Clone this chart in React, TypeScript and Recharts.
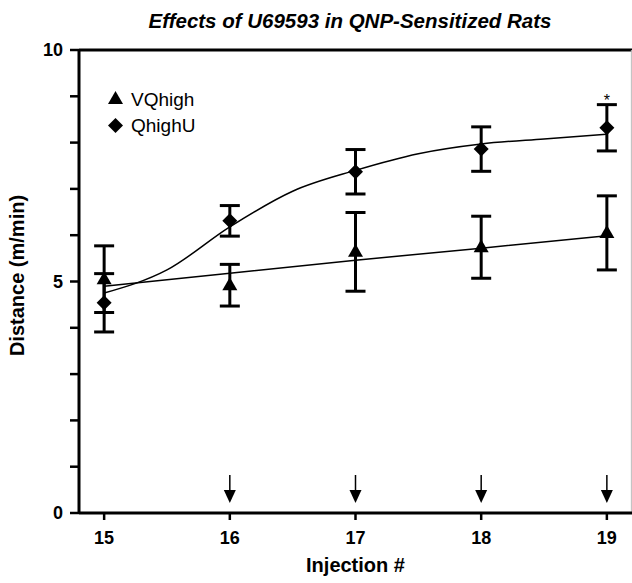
import {
  ComposedChart,
  ErrorBar,
  Line,
  ReferenceLine,
  Scatter,
  XAxis,
  YAxis,
} from "recharts";

const injections = [15, 16, 17, 18, 19];
const vqMean = [5.05, 4.92, 5.64, 5.74, 6.05];
const vqSem = [0.72, 0.45, 0.85, 0.67, 0.8];
const quMean = [4.54, 6.31, 7.37, 7.86, 8.32];
const quSem = [0.63, 0.33, 0.48, 0.48, 0.5];

// fitted curves
const vqFitX = [15, 16, 17, 18, 19];
const vqFitY = [4.9, 5.18, 5.46, 5.72, 5.99];
const quFitX = [15, 15.5, 16, 16.5, 17, 17.5, 18, 18.5, 19];
const quFitY = [4.75, 5.25, 6.18, 6.95, 7.4, 7.76, 7.97, 8.08, 8.18];

const arrowInjections = [16, 17, 18, 19];
const significant = [19];
const yTicks = [0, 1, 2, 3, 4, 5, 6, 7, 8, 9, 10];
const xTicks = [15, 16, 17, 18, 19];

const FONT = "'Liberation Sans', Arial, sans-serif";

const vqData = injections.map((x, i) => ({ x, y: vqMean[i], err: vqSem[i] }));
const quData = injections.map((x, i) => ({ x, y: quMean[i], err: quSem[i] }));
const vqFit = vqFitX.map((x, i) => ({ x, y: vqFitY[i] }));
const quFit = quFitX.map((x, i) => ({ x, y: quFitY[i] }));
const arrowData = arrowInjections.map((x) => ({ x, y: 0 }));
const starData = significant.map((x) => {
  const i = injections.indexOf(x);
  return { x, y: quMean[i] + quSem[i] };
});

const Triangle = ({ cx, cy }: any) => (
  <polygon points={`${cx},${cy - 8} ${cx + 7.5},${cy + 5} ${cx - 7.5},${cy + 5}`} fill="#000" />
);
const Diamond = ({ cx, cy }: any) => (
  <polygon points={`${cx},${cy - 7.5} ${cx + 7.5},${cy} ${cx},${cy + 7.5} ${cx - 7.5},${cy}`} fill="#000" />
);
const Arrow = ({ cx, cy }: any) => (
  <g>
    <line x1={cx} x2={cx} y1={cy - 38} y2={cy - 22} stroke="#000" strokeWidth={1.5} />
    <polygon points={`${cx - 6},${cy - 23} ${cx + 6},${cy - 23} ${cx},${cy - 10}`} fill="#000" />
  </g>
);
const Star = ({ cx, cy }: any) => (
  <text x={cx} y={cy + 1} textAnchor="middle" fontFamily={FONT} fontSize={16}>
    *
  </text>
);

const legendItems = [
  { name: "VQhigh", Icon: Triangle },
  { name: "QhighU", Icon: Diamond },
];

const tickStyle = { fontFamily: FONT, fontSize: 18, fontWeight: "bold", fill: "#000" };

export default function App() {
  return (
    <div style={{ position: "absolute", left: 0, top: 0, width: 632, height: 583, background: "#fff" }}>
      <ComposedChart width={632} height={583} margin={{ top: 50, right: 0, bottom: 0, left: 0 }}>
        <XAxis
          dataKey="x"
          type="number"
          domain={[14.8, 19.2]}
          ticks={xTicks}
          height={70}
          allowDataOverflow
          axisLine={{ stroke: "#000", strokeWidth: 3 }}
          tickLine={{ stroke: "#000", strokeWidth: 2.5 }}
          tickSize={7}
          tickMargin={11}
          tick={tickStyle}
          label={{
            content: ({ viewBox }: any) => (
              <text
                x={viewBox.x + viewBox.width / 2}
                y={viewBox.y + 59}
                textAnchor="middle"
                fontFamily={FONT}
                fontSize={20}
                fontWeight="bold"
              >
                Injection #
              </text>
            ),
          }}
        />
        <YAxis
          dataKey="y"
          type="number"
          domain={[0, 10]}
          ticks={yTicks}
          width={79}
          axisLine={{ stroke: "#000", strokeWidth: 3 }}
          tickLine={{ stroke: "#000", strokeWidth: 2.5 }}
          tickSize={9}
          tickMargin={7}
          tick={tickStyle}
          tickFormatter={(v: number) => (v % 5 === 0 ? String(v) : "")}
          label={{
            content: ({ viewBox }: any) => {
              const cy = viewBox.y + viewBox.height / 2 - 6;
              return (
                <text
                  x={24}
                  y={cy}
                  transform={`rotate(-90, 24, ${cy})`}
                  textAnchor="middle"
                  fontFamily={FONT}
                  fontSize={20}
                  fontWeight="bold"
                >
                  Distance (m/min)
                </text>
              );
            },
          }}
        />
        <ReferenceLine y={10} stroke="#000" strokeWidth={3} />
        <ReferenceLine x={19.195} stroke="#bbb" strokeWidth={1} />
        <Line
          data={vqFit}
          dataKey="y"
          type="linear"
          stroke="#000"
          strokeWidth={1.5}
          dot={false}
          activeDot={false}
          legendType="none"
          isAnimationActive={false}
        />
        <Line
          data={quFit}
          dataKey="y"
          type="monotone"
          stroke="#000"
          strokeWidth={1.5}
          dot={false}
          activeDot={false}
          legendType="none"
          isAnimationActive={false}
        />
        <Scatter name="VQhigh" data={vqData} shape={<Triangle />} isAnimationActive={false}>
          <ErrorBar dataKey="err" direction="y" width={10} strokeWidth={3} stroke="#000" />
        </Scatter>
        <Scatter name="QhighU" data={quData} shape={<Diamond />} isAnimationActive={false}>
          <ErrorBar dataKey="err" direction="y" width={10} strokeWidth={3} stroke="#000" />
        </Scatter>
        <Scatter data={arrowData} shape={<Arrow />} legendType="none" isAnimationActive={false} />
        <Scatter data={starData} shape={<Star />} legendType="none" isAnimationActive={false} />
      </ComposedChart>
      <svg width={632} height={140} style={{ position: "absolute", left: 0, top: 0, pointerEvents: "none" }}>
        <text
          x={350}
          y={28}
          textAnchor="middle"
          fontFamily={FONT}
          fontSize={20.5}
          fontWeight="bold"
          fontStyle="italic"
        >
          Effects of U69593 in QNP-Sensitized Rats
        </text>
        {legendItems.map(({ name, Icon }, i) => (
          <g key={name}>
            <Icon cx={115.5} cy={99 + i * 26.5} />
            <text x={131} y={105.5 + i * 26.5} fontFamily={FONT} fontSize={19}>
              {name}
            </text>
          </g>
        ))}
      </svg>
    </div>
  );
}
